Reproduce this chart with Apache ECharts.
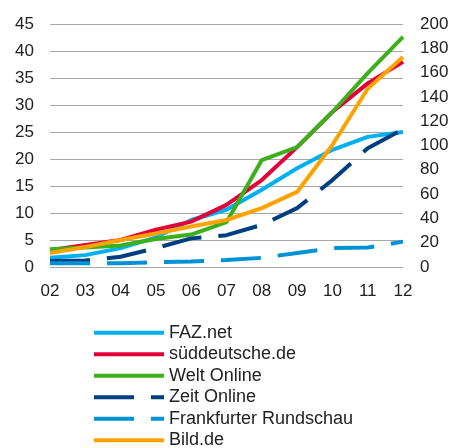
<!DOCTYPE html>
<html>
<head>
<meta charset="utf-8">
<script src="https://cdn.jsdelivr.net/npm/echarts@6/dist/echarts.min.js"></script>
<style>
  html, body { margin: 0; padding: 0; background: #fff; }
  #main { width: 452px; height: 448px; }
</style>
</head>
<body>
<div id="main"></div>
<script>
// Jahre (x-Achse)
var years = ['02', '03', '04', '05', '06', '07', '08', '09', '10', '11', '12'];

var faz = [1.7, 2.2, 3.5, 5.5, 8.7, 10.6, 14.3, 18.3, 21.7, 24.1, 25.0];
var sueddeutsche = [3.1, 4.1, 5.0, 6.9, 8.4, 11.5, 16.1, 22.2, 28.7, 34.0, 38.0];
var welt = [3.3, 3.6, 4.0, 5.2, 6.0, 8.3, 19.8, 22.2, 28.7, 35.9, 42.6];
var zeit = [1.1, 1.2, 1.9, 3.5, 5.3, 5.9, 7.8, 10.9, 16.1, 22.0, 25.5];
var frankfurter = [0.7, 0.7, 0.7, 0.9, 1.0, 1.3, 1.7, 2.6, 3.5, 3.6, 4.7];
var bild = [2.6, 3.7, 5.0, 6.2, 7.5, 8.7, 10.9, 13.9, 22.6, 33.0, 38.9];

var myChart = echarts.init(document.getElementById('main'));

function line(name, data, color, dashed) {
    return {
        name: name,
        type: 'line',
        data: data,
        symbol: 'none',
        smooth: false,
        lineStyle: {
            color: color,
            width: 4,
            type: dashed ? [40, 17] : 'solid'
        },
        itemStyle: { color: color }
    };
}

var option = {
    animation: false,
    textStyle: { fontFamily: 'Liberation Sans, Arial, sans-serif' },
    grid: { left: 50, right: 49, top: 24, bottom: 181 },
    legend: {
        orient: 'vertical',
        left: 92,
        top: 322,
        height: 160,
        padding: 0,
        itemWidth: 70,
        itemHeight: 14,
        itemGap: 0,
        lineStyle: { width: 4 },
        itemStyle: { opacity: 0 },
        textStyle: { fontSize: 18, color: '#222', lineHeight: 21.5 },
        data: ['FAZ.net', 'süddeutsche.de', 'Welt Online', 'Zeit Online', 'Frankfurter Rundschau', 'Bild.de']
    },
    xAxis: {
        type: 'category',
        data: years,
        boundaryGap: false,
        axisLine: { show: false },
        axisTick: { show: false },
        axisLabel: { fontSize: 17, color: '#222', margin: 16 }
    },
    yAxis: [
        {
            type: 'value',
            min: 0,
            max: 45,
            interval: 5,
            axisLine: { show: false },
            axisTick: { show: false },
            axisLabel: { fontSize: 17, color: '#222', margin: 16 },
            splitLine: { lineStyle: { color: '#a6a6a6', width: 1 } }
        },
        {
            type: 'value',
            min: 0,
            max: 200,
            interval: 20,
            axisLine: { show: false },
            axisTick: { show: false },
            axisLabel: { fontSize: 17, color: '#222', margin: 17 },
            splitLine: { show: false }
        }
    ],
    series: [
        line('FAZ.net', faz, '#00b0f0', false),
        line('süddeutsche.de', sueddeutsche, '#e2003b', false),
        line('Welt Online', welt, '#3cb01a', false),
        line('Zeit Online', zeit, '#003f7f', true),
        line('Frankfurter Rundschau', frankfurter, '#0092d4', true),
        line('Bild.de', bild, '#ffa200', false)
    ]
};
myChart.setOption(option);
</script>
</body>
</html>
